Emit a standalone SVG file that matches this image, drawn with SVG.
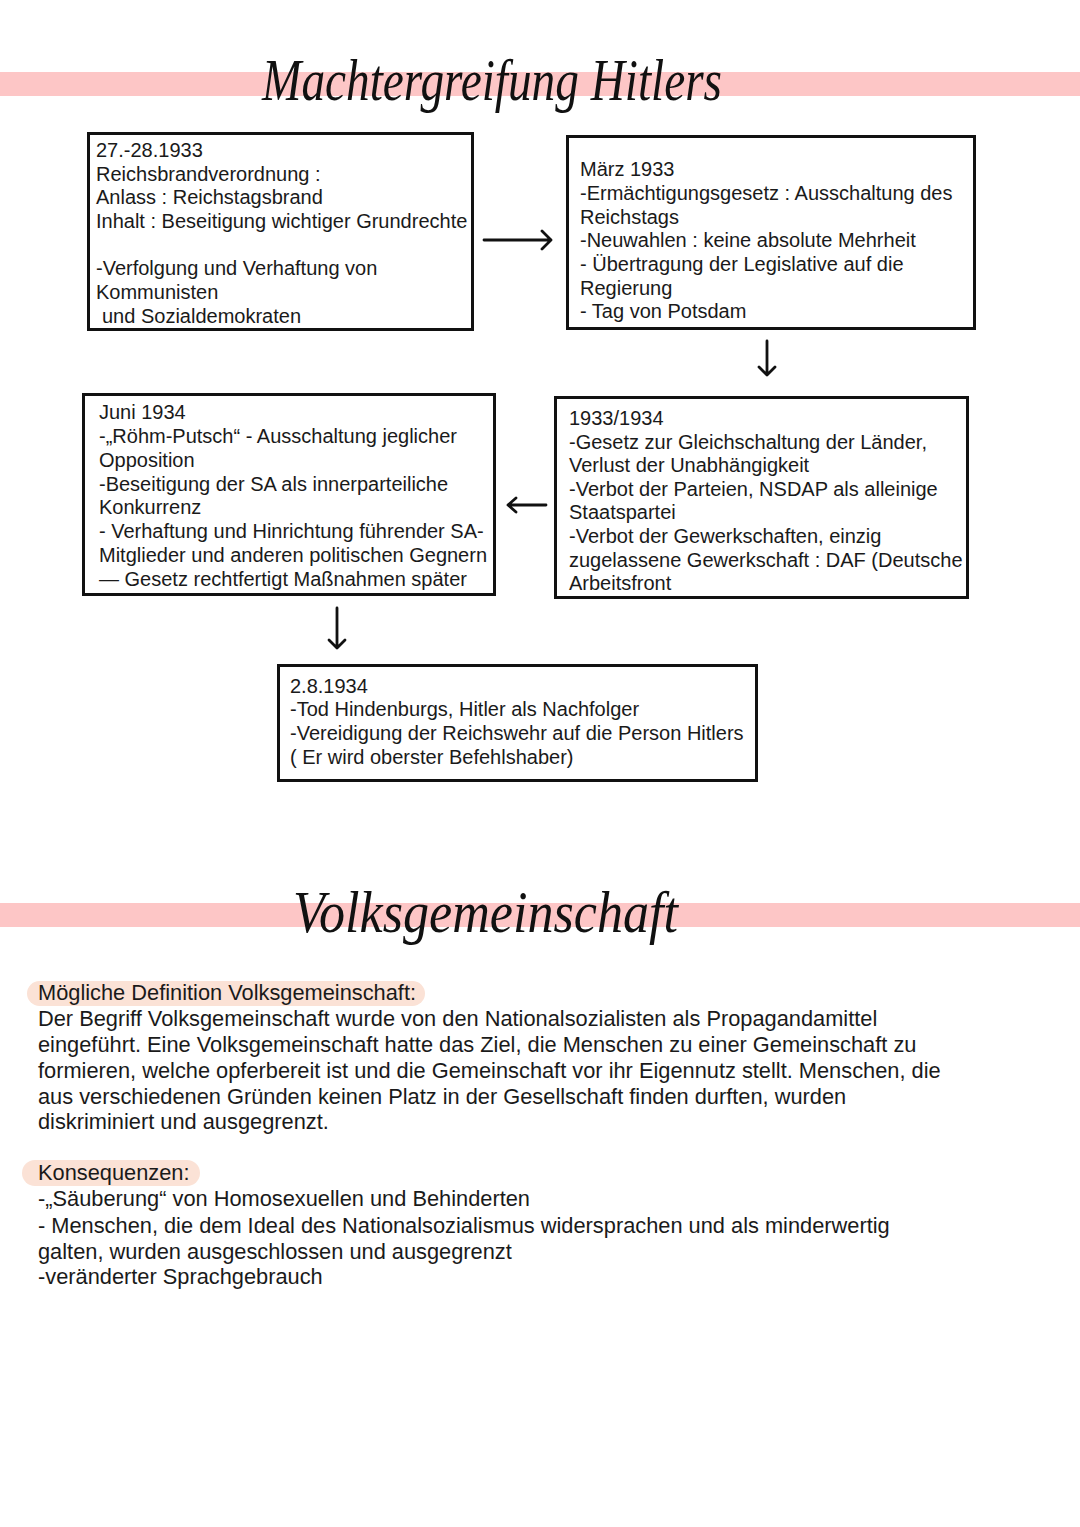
<svg xmlns="http://www.w3.org/2000/svg" width="1080" height="1527" viewBox="0 0 1080 1527">
<style>
.band{fill:#fdc6c6}
.box{fill:#fff;stroke:#111;stroke-width:3}
.t{font-family:"Liberation Sans",Arial,sans-serif;font-size:20px;fill:#1a1a1a}
.b{font-family:"Liberation Sans",Arial,sans-serif;font-size:21.8px;fill:#1a1a1a}
.title{font-family:"Liberation Serif","DejaVu Serif",serif;font-style:italic;font-size:60px;fill:#111}
.hl{fill:#fbe2d6}
.arr{fill:none;stroke:#111;stroke-width:2.8;stroke-linecap:round;stroke-linejoin:round}
</style>
<rect width="1080" height="1527" fill="#fff"/>
<rect class="band" x="0" y="72" width="1080" height="24"/>
<rect class="band" x="0" y="903" width="1080" height="24"/>
<text class="title" x="262" y="100" textLength="460" lengthAdjust="spacingAndGlyphs">Machtergreifung Hitlers</text>
<text class="title" x="293" y="932" textLength="385" lengthAdjust="spacingAndGlyphs">Volksgemeinschaft</text>

<g id="node1">
<rect class="box" x="88.5" y="133.5" width="384" height="196"/>
<text class="t"><tspan x="96" y="157">27.-28.1933</tspan><tspan x="96" y="181">Reichsbrandverordnung :</tspan><tspan x="96" y="204">Anlass : Reichstagsbrand</tspan><tspan x="96" y="228">Inhalt : Beseitigung wichtiger Grundrechte</tspan><tspan x="96" y="275">-Verfolgung und Verhaftung von</tspan><tspan x="96" y="299">Kommunisten</tspan><tspan x="102" y="323">und Sozialdemokraten</tspan></text>
</g>
<g id="node2">
<rect class="box" x="567.5" y="136.5" width="407" height="192"/>
<text class="t"><tspan x="580" y="176">März 1933</tspan><tspan x="580" y="200">-Ermächtigungsgesetz : Ausschaltung des</tspan><tspan x="580" y="224">Reichstags</tspan><tspan x="580" y="247">-Neuwahlen : keine absolute Mehrheit</tspan><tspan x="580" y="271">- Übertragung der Legislative auf die</tspan><tspan x="580" y="295">Regierung</tspan><tspan x="580" y="318">- Tag von Potsdam</tspan></text>
</g>
<g id="node3">
<rect class="box" x="83.5" y="394.5" width="411" height="200"/>
<text class="t"><tspan x="99" y="419">Juni 1934</tspan><tspan x="99" y="443">-„Röhm-Putsch“ - Ausschaltung jeglicher</tspan><tspan x="99" y="467">Opposition</tspan><tspan x="99" y="491">-Beseitigung der SA als innerparteiliche</tspan><tspan x="99" y="514">Konkurrenz</tspan><tspan x="99" y="538">- Verhaftung und Hinrichtung führender SA-</tspan><tspan x="99" y="562">Mitglieder und anderen politischen Gegnern</tspan><tspan x="99" y="586">— Gesetz rechtfertigt Maßnahmen später</tspan></text>
</g>
<g id="node4">
<rect class="box" x="555.5" y="397.5" width="412" height="200"/>
<text class="t"><tspan x="569" y="425">1933/1934</tspan><tspan x="569" y="449">-Gesetz zur Gleichschaltung der Länder,</tspan><tspan x="569" y="472">Verlust der Unabhängigkeit</tspan><tspan x="569" y="496">-Verbot der Parteien, NSDAP als alleinige</tspan><tspan x="569" y="519">Staatspartei</tspan><tspan x="569" y="543">-Verbot der Gewerkschaften, einzig</tspan><tspan x="569" y="567">zugelassene Gewerkschaft : DAF (Deutsche</tspan><tspan x="569" y="590">Arbeitsfront</tspan></text>
</g>
<g id="node5">
<rect class="box" x="278.5" y="665.5" width="478" height="115"/>
<text class="t"><tspan x="290" y="693">2.8.1934</tspan><tspan x="290" y="716">-Tod Hindenburgs, Hitler als Nachfolger</tspan><tspan x="290" y="740">-Vereidigung der Reichswehr auf die Person Hitlers</tspan><tspan x="290" y="764">( Er wird oberster Befehlshaber)</tspan></text>
</g>

<g id="connectors">
<path class="arr" d="M484 240 H551 M542 231 L551 240 L542 249"/>
<path class="arr" d="M767 341 V375 M759 367 L767 375 L775 367"/>
<path class="arr" d="M546 505 H508 M516 498 L508 505 L516 512"/>
<path class="arr" d="M337 608 V648 M329 640 L337 648 L345 640"/>
</g>

<rect class="hl" x="27" y="981" width="398" height="25" rx="12.5"/>
<rect class="hl" x="22" y="1160" width="178" height="26" rx="13"/>
<text class="b"><tspan x="38" y="1000">Mögliche Definition Volksgemeinschaft:</tspan><tspan x="38" y="1026">Der Begriff Volksgemeinschaft wurde von den Nationalsozialisten als Propagandamittel</tspan><tspan x="38" y="1052">eingeführt. Eine Volksgemeinschaft hatte das Ziel, die Menschen zu einer Gemeinschaft zu</tspan><tspan x="38" y="1078">formieren, welche opferbereit ist und die Gemeinschaft vor ihr Eigennutz stellt. Menschen, die</tspan><tspan x="38" y="1104">aus verschiedenen Gründen keinen Platz in der Gesellschaft finden durften, wurden</tspan><tspan x="38" y="1129">diskriminiert und ausgegrenzt.</tspan><tspan x="38" y="1180">Konsequenzen:</tspan><tspan x="38" y="1206">-„Säuberung“ von Homosexuellen und Behinderten</tspan><tspan x="38" y="1233">- Menschen, die dem Ideal des Nationalsozialismus widersprachen und als minderwertig</tspan><tspan x="38" y="1259">galten, wurden ausgeschlossen und ausgegrenzt</tspan><tspan x="38" y="1284">-veränderter Sprachgebrauch</tspan></text>
</svg>
